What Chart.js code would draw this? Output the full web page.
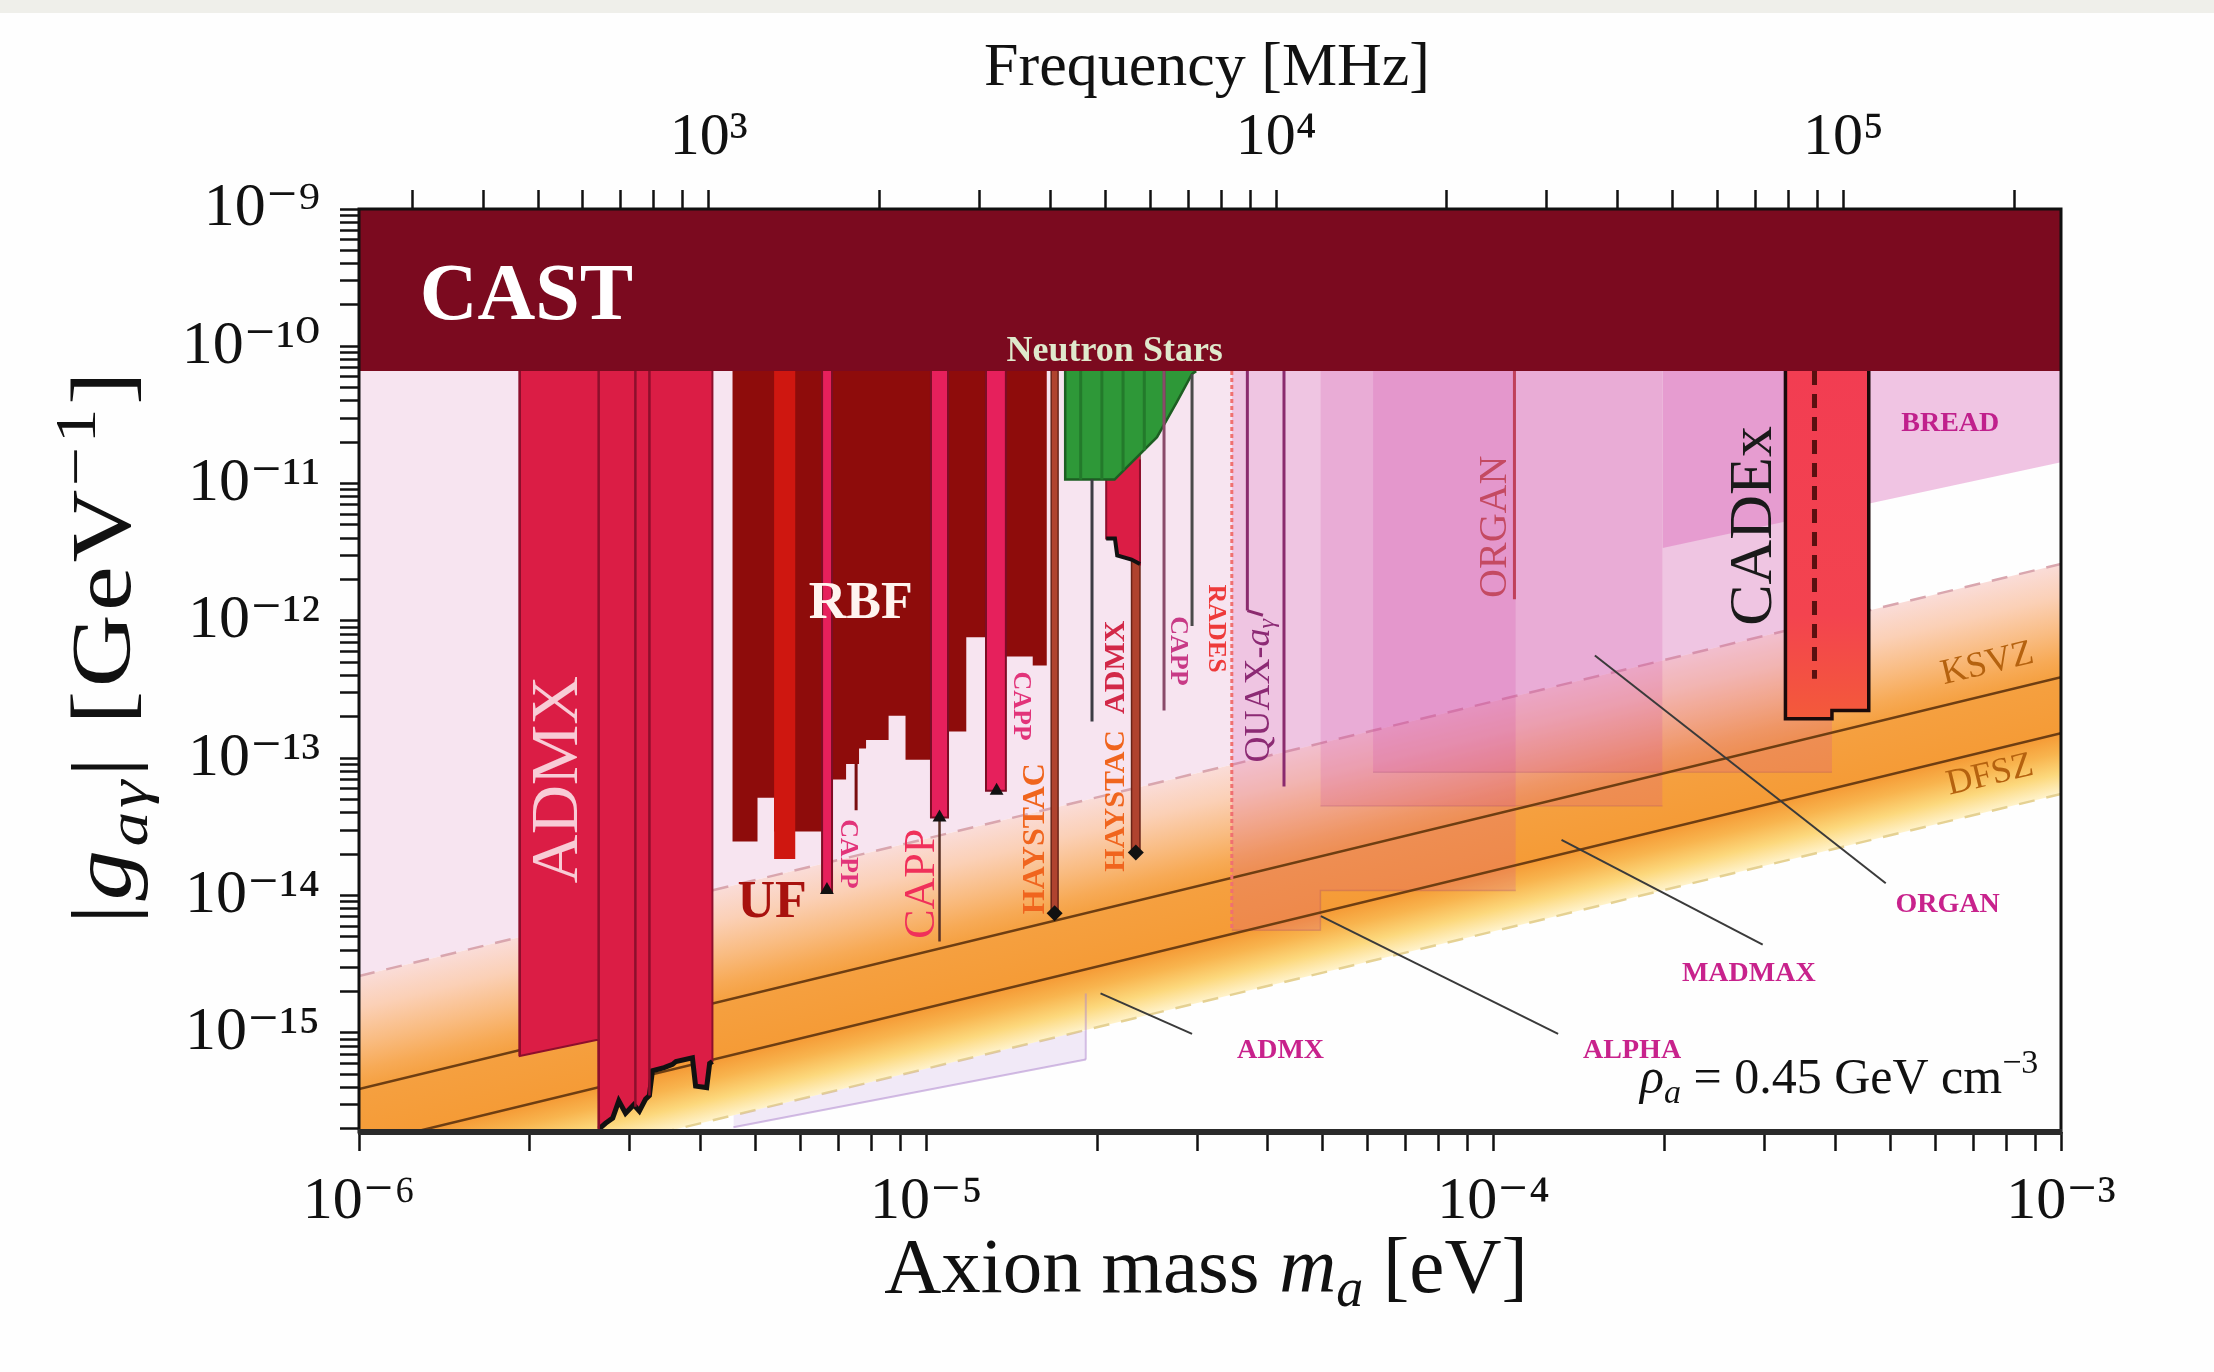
<!DOCTYPE html>
<html><head><meta charset="utf-8">
<script src="https://cdn.jsdelivr.net/npm/chart.js@4.4.1/dist/chart.umd.min.js"></script>
<style>html,body{margin:0;padding:0;background:#fefefe;}canvas{display:block;}</style>
</head><body>
<canvas id="c" width="2214" height="1372"></canvas>
<script>
// ---------------- DATA (mass in eV, coupling in GeV^-1) ----------------
const massRange = [1e-6, 1e-3];
const couplingRange = [1.9e-16, 1e-9];
const freqRange = [241.8, 241800]; // MHz, same span as massRange
const massTicks = [1e-6, 1e-5, 1e-4, 1e-3];
const massTickLabels = ['10⁻⁶', '10⁻⁵', '10⁻⁴', '10⁻³'];
const couplingTicks = [1e-15, 1e-14, 1e-13, 1e-12, 1e-11, 1e-10, 1e-9];
const couplingTickLabels = ['10⁻¹⁵', '10⁻¹⁴', '10⁻¹³', '10⁻¹²', '10⁻¹¹', '10⁻¹⁰', '10⁻⁹'];
const freqTicks = [1e3, 1e4, 1e5];
const freqTickLabels = ['10³', '10⁴', '10⁵'];

// QCD axion band
const bandMass = [1e-6, 1e-3];
const ksvzCoupling = [3.9e-16, 3.9e-13];
const dfszCoupling = [1.52e-16, 1.52e-13];
const bandUpperCoupling = [2.6e-15, 2.6e-12];
const bandLowerCoupling = [5.5e-17, 5.5e-14];

// light pink region above the band
const hintMass = [1e-6, 4.6e-4];
const hintCoupling = [2.6e-15, 1.196e-12];

// CAST
const castMass = [1e-6, 1e-3];
const castCoupling = [6.6e-11, 6.6e-11];

// ADMX (main)
const admxMass = [1.92e-6, 1.92e-6, 2.62e-6, 2.645e-6, 2.65e-6, 2.72e-6, 2.80e-6, 2.87e-6, 2.95e-6, 3.05e-6, 3.12e-6, 3.20e-6, 3.25e-6, 3.29e-6, 3.45e-6, 3.57e-6, 3.62e-6, 3.87e-6, 3.92e-6, 4.10e-6, 4.15e-6, 4.197e-6, 4.197e-6];
const admxCoupling = [6.6e-11, 6.8e-16, 8.9e-16, 8.9e-16, 2.0e-16, 2.2e-16, 2.4e-16, 3.2e-16, 2.6e-16, 3.0e-16, 2.7e-16, 3.3e-16, 3.5e-16, 5.3e-16, 5.6e-16, 5.9e-16, 6.2e-16, 6.6e-16, 4.1e-16, 4.0e-16, 6.0e-16, 6.2e-16, 6.6e-11];
const admxDividerMass = [1.92e-6, 2.645e-6, 3.07e-6, 3.25e-6];
const admxDividerBottom = [6.8e-16, 2.0e-16, 2.9e-16, 3.5e-16];

// ADMX projected reach
const admxProjMass = [4.57e-6, 1.91e-5];
const admxProjCoupling = [2.06e-16, 6.4e-16];
const admxProjEdgeMass = [1.91e-5, 1.91e-5];
const admxProjEdgeCoupling = [6.4e-16, 1.94e-15];

// RBF / UF
const rbfMass = [4.55e-6, 4.55e-6, 5.04e-6, 5.04e-6, 5.39e-6, 5.39e-6, 6.55e-6, 6.55e-6, 7.22e-6, 7.22e-6, 7.61e-6, 7.61e-6, 7.83e-6, 7.83e-6, 8.58e-6, 8.58e-6, 9.19e-6, 9.19e-6, 1.026e-5, 1.026e-5, 1.176e-5, 1.176e-5, 1.274e-5, 1.274e-5, 1.54e-5, 1.54e-5, 1.631e-5, 1.631e-5];
const rbfCoupling = [6.6e-11, 2.48e-14, 2.48e-14, 5.16e-14, 5.16e-14, 2.93e-14, 2.93e-14, 7.01e-14, 7.01e-14, 9.1e-14, 9.1e-14, 1.18e-13, 1.18e-13, 1.36e-13, 1.36e-13, 2.04e-13, 2.04e-13, 9.77e-14, 9.77e-14, 1.57e-13, 1.57e-13, 7.62e-13, 7.62e-13, 5.52e-13, 5.52e-13, 4.75e-13, 4.75e-13, 6.6e-11];
const ufMass = [5.39e-6, 5.88e-6];
const ufCoupling = [1.85e-14, 1.85e-14];

// CAPP strips
const cappLeft = [6.55e-6, 1.019e-5, 1.274e-5];
const cappRight = [6.82e-6, 1.092e-5, 1.381e-5];
const cappBottom = [1.06e-14, 3.7e-14, 5.81e-14];
const cappMarkMass = [6.68e-6, 1.055e-5, 1.33e-5];
const cappMarkCoupling = [1.1e-14, 3.7e-14, 5.81e-14];

// HAYSTAC strips
const haystacLeft = [1.66e-5, 2.30e-5];
const haystacRight = [1.707e-5, 2.38e-5];
const haystacBottom = [7.45e-15, 2.06e-14];
const haystacMarkMass = [1.683e-5, 2.34e-5];
const haystacMarkCoupling = [7.45e-15, 2.06e-14];

// ADMX (high mass run)
const admx2Mass = [2.075e-5, 2.075e-5, 2.15e-5, 2.17e-5, 2.30e-5, 2.38e-5, 2.38e-5];
const admx2Coupling = [1.07e-11, 3.98e-12, 3.98e-12, 3.0e-12, 2.8e-12, 2.6e-12, 1.5e-11];

// Neutron stars
const nsMass = [1.757e-5, 1.757e-5, 2.147e-5, 2.274e-5, 2.55e-5, 2.765e-5, 2.94e-5, 2.99e-5];
const nsCoupling = [6.6e-11, 1.07e-11, 1.07e-11, 1.36e-11, 2.18e-11, 3.94e-11, 6.3e-11, 6.6e-11];
const nsStripeMass = [1.871e-5, 2.039e-5, 2.222e-5, 2.422e-5, 2.627e-5];
const nsStripeBottom = [1.07e-11, 1.07e-11, 1.25e-11, 1.75e-11, 2.8e-11];

// thin vertical limits (other haloscopes)
const vlineMass = [7.52e-6, 1.055e-5, 1.959e-5, 2.624e-5, 2.94e-5, 3.68e-5, 4.27e-5, 1.088e-4];
const vlineTop = [9.1e-14, 3.7e-14, 1.07e-11, 6.6e-11, 6.3e-11, 6.6e-11, 6.6e-11, 6.6e-11];
const vlineBottom = [4.18e-14, 4.64e-15, 1.85e-13, 2.23e-13, 9.2e-13, 1.19e-12, 6.24e-14, 1.44e-12];
const radesMass = [3.455e-5, 3.455e-5];
const radesCoupling = [6.6e-11, 5.6e-15];
const quaxTickMass = [3.68e-5, 3.92e-5];
const quaxTickCoupling = [1.19e-12, 1.1e-12];

// CADEx
const cadexMass = [3.268e-4, 3.268e-4, 3.947e-4, 3.947e-4, 4.583e-4, 4.583e-4];
const cadexCoupling = [6.6e-11, 1.94e-13, 1.94e-13, 2.23e-13, 2.23e-13, 6.6e-11];
const cadexDashMass = [3.677e-4, 3.677e-4];
const cadexDashCoupling = [6.6e-11, 3.79e-13];

// projections
const alphaProjMass = [3.455e-5, 4.95e-5, 4.95e-5, 1.094e-4];
const alphaProjCoupling = [5.6e-15, 5.6e-15, 1.09e-14, 1.09e-14];
const madmaxProjMass = [4.95e-5, 1.985e-4];
const madmaxProjCoupling = [4.5e-14, 4.5e-14];
const organProjMass = [6.13e-5, 3.947e-4];
const organProjCoupling = [7.9e-14, 7.9e-14];
const breadMass = [1.985e-4, 1e-3];
const breadCoupling = [3.4e-12, 1.43e-11];

// leader lines for projection labels
const leaderAdmxMass = [2.028e-5, 2.94e-5], leaderAdmxCoupling = [1.94e-15, 9.86e-16];
const leaderAlphaMass = [4.96e-5, 1.299e-4], leaderAlphaCoupling = [7.1e-15, 9.84e-16];
const leaderMadmaxMass = [1.317e-4, 2.98e-4], leaderMadmaxCoupling = [2.55e-14, 4.4e-15];
const leaderOrganMass = [1.508e-4, 4.91e-4], leaderOrganCoupling = [5.61e-13, 1.23e-14];

// text labels: anchor positions (mass, coupling)
const labelText = ['CAST', 'Neutron Stars', 'RBF', 'UF', 'ADMX', 'CAPP', 'CAPP', 'CAPP', 'HAYSTAC', 'HAYSTAC', 'ADMX', 'CAPP', 'RADES', 'ORGAN', 'CADEx', 'BREAD', 'ADMX', 'ALPHA', 'MADMAX', 'ORGAN'];
const labelMass = [1.279e-6, 2.148e-5, 7.66e-6, 5.35e-6, 2.257e-6, 7.27e-6, 9.85e-6, 1.466e-5, 1.561e-5, 2.164e-5, 2.164e-5, 2.77e-5, 3.243e-5, 1.007e-4, 2.88e-4, 6.38e-4, 4.21e-5, 1.754e-4, 2.816e-4, 6.31e-4];
const labelCoupling = [1.58e-10, 7.8e-11, 1.045e-12, 7.0e-15, 7.0e-14, 2.01e-14, 1.22e-14, 2.4e-13, 2.6e-14, 4.9e-14, 4.6e-13, 6.06e-13, 8.8e-13, 4.85e-12, 4.92e-12, 2.42e-11, 6.58e-16, 6.58e-16, 2.37e-15, 7.62e-15];
const quaxLabelPos = [3.862e-5, 3.1e-13];
const ksvzLabelPos = [7.42e-4, 4.86e-13];
const dfszLabelPos = [7.5e-4, 7.53e-14];
const rhoLabelPos = [9.12e-4, 3.67e-16];

// ---------------- STYLE ----------------
const SERIF = "'Liberation Serif', 'DejaVu Serif', serif";
const labelStyle = [
  {f: 'bold 80px', c: '#ffffff', a: 'left', b: 'alphabetic', r: 0},
  {f: 'bold 36px', c: '#dfe9cc', a: 'center', b: 'alphabetic', r: 0},
  {f: 'bold 52px', c: '#fff4ef', a: 'center', b: 'alphabetic', r: 0},
  {f: 'bold 52px', c: '#a8120e', a: 'center', b: 'alphabetic', r: 0},
  {f: '68px', c: '#f8ccd6', a: 'center', b: 'middle', r: -90},
  {f: 'bold 26px', c: '#e2347a', a: 'center', b: 'middle', r: 90},
  {f: '44px', c: '#f0305a', a: 'center', b: 'middle', r: -90},
  {f: 'bold 26px', c: '#e2347a', a: 'center', b: 'middle', r: 90},
  {f: 'bold 32px', c: '#f0651e', a: 'center', b: 'middle', r: -90},
  {f: 'bold 30px', c: '#f0651e', a: 'center', b: 'middle', r: -90},
  {f: 'bold 30px', c: '#d22848', a: 'center', b: 'middle', r: -90},
  {f: 'bold 26px', c: '#c83a86', a: 'center', b: 'middle', r: 90},
  {f: 'bold 26px', c: '#ee3a3a', a: 'center', b: 'middle', r: 90},
  {f: '40px', c: '#c44a62', a: 'center', b: 'middle', r: -90},
  {f: '62px', c: '#1a1a1a', a: 'center', b: 'middle', r: -90},
  {f: 'bold 28px', c: '#c0208c', a: 'center', b: 'alphabetic', r: 0},
  {f: 'bold 28px', c: '#c8228c', a: 'center', b: 'alphabetic', r: 0},
  {f: 'bold 28px', c: '#c8228c', a: 'center', b: 'alphabetic', r: 0},
  {f: 'bold 28px', c: '#c8228c', a: 'center', b: 'alphabetic', r: 0},
  {f: 'bold 28px', c: '#c8228c', a: 'center', b: 'alphabetic', r: 0}
];
const vlineColor = ['#7a0d10', '#5a3328', '#3c3c44', '#8a4a6a', '#4a4a4a', '#8b2a6e', '#8b2a6e', '#c0405a'];

// ---------------- BUILD DATASETS ----------------
const pts = (ms, gs) => ms.map((m, i) => ({x: m, y: gs[i]}));
const layers = []; // bottom to top
function area(ms, gs, color, extra) {
  layers.push(Object.assign({data: pts(ms, gs), fill: 'end', backgroundColor: color, borderWidth: 0, borderColor: 'rgba(0,0,0,0)'}, extra || {}));
}
function line(ms, gs, color, width, extra) {
  layers.push(Object.assign({data: pts(ms, gs), fill: false, borderColor: color, borderWidth: width, backgroundColor: 'rgba(0,0,0,0)'}, extra || {}));
}

function bandGradient(context) {
  const chart = context.chart;
  const {chartArea, scales} = chart;
  if (!chartArea) return 'rgba(0,0,0,0)';
  const xs = scales.x, ys = scales.y;
  const xa = xs.getPixelForValue(bandMass[0]), xb = xs.getPixelForValue(bandMass[1]);
  const ya = ys.getPixelForValue(bandUpperCoupling[0]), yb = ys.getPixelForValue(bandUpperCoupling[1]);
  const k = (yb - ya) / (xb - xa);
  const yl = ys.getPixelForValue(bandLowerCoupling[0]);
  const f = (yl - ya) / (1 + k * k);
  const g = chart.ctx.createLinearGradient(xa, ya, xa - k * f, ya + f);
  g.addColorStop(0.0, '#fadcd8');
  g.addColorStop(0.14, '#fbd0b6');
  g.addColorStop(0.29, '#f9bc82');
  g.addColorStop(0.41, '#f7aa56');
  g.addColorStop(0.49, '#f5a040');
  g.addColorStop(0.74, '#f59b36');
  g.addColorStop(0.82, '#f8b44e');
  g.addColorStop(0.91, '#fcd87c');
  g.addColorStop(1.0, '#fff3cc');
  return g;
}
function cadexGradient(context) {
  const chart = context.chart;
  if (!chart.chartArea) return '#f2424f';
  const ys = chart.scales.y;
  const g = chart.ctx.createLinearGradient(0, ys.getPixelForValue(cadexCoupling[0]), 0, ys.getPixelForValue(cadexCoupling[1]));
  g.addColorStop(0, '#f23d52');
  g.addColorStop(0.7, '#f3434f');
  g.addColorStop(1, '#f35a3a');
  return g;
}

area(hintMass, hintCoupling, '#f7e4f0');                                   // 0
line(bandMass, bandUpperCoupling, '#d9a6ae', 2.5, {fill: '+1', backgroundColor: bandGradient, borderDash: [16, 12]}); // 1
line(bandMass, bandLowerCoupling, '#e5d193', 2.5, {borderDash: [16, 12]}); // 2
line(admxProjMass, admxProjCoupling, 'rgba(175,135,205,0.55)', 2, {fill: 2, backgroundColor: 'rgba(195,160,225,0.22)'});
line(admxProjEdgeMass, admxProjEdgeCoupling, 'rgba(175,135,205,0.5)', 2);
area(alphaProjMass, alphaProjCoupling, 'rgba(208,62,165,0.19)', {borderColor: 'rgba(150,60,110,0.25)', borderWidth: 1.5});
area(madmaxProjMass, madmaxProjCoupling, 'rgba(208,62,165,0.19)', {borderColor: 'rgba(150,60,110,0.2)', borderWidth: 1.5});
area(organProjMass, organProjCoupling, 'rgba(208,62,165,0.19)', {borderColor: 'rgba(150,60,110,0.2)', borderWidth: 1.5});
area(breadMass, breadCoupling, 'rgba(208,62,165,0.30)');
line(bandMass, ksvzCoupling, '#6e3e12', 2.5);
line(bandMass, dfszCoupling, '#6e3e12', 2.5);
area(admxMass, admxCoupling, '#db1d45', {borderColor: '#8d0f2c', borderWidth: 2});
line(admxMass.slice(4, 22), admxCoupling.slice(4, 22), '#111111', 5);
admxDividerMass.forEach((m, i) => line([m, m], [6.6e-11, admxDividerBottom[i]], '#8d0f2c', 2.5));
area(rbfMass, rbfCoupling, '#8e0c0b');
area(ufMass, ufCoupling, '#cf1710');
line([vlineMass[0], vlineMass[0]], [vlineTop[0], vlineBottom[0]], vlineColor[0], 3);
cappLeft.forEach((m, i) => area([m, m, cappRight[i], cappRight[i]], [6.6e-11, cappBottom[i], cappBottom[i], 6.6e-11], '#e6205c', {borderColor: '#7d0d25', borderWidth: 2}));
line([vlineMass[1], vlineMass[1]], [vlineTop[1], vlineBottom[1]], vlineColor[1], 2.5);
haystacLeft.forEach((m, i) => area([m, m, haystacRight[i], haystacRight[i]], [6.6e-11, haystacBottom[i], haystacBottom[i], 6.6e-11], '#b0432f', {borderColor: '#6a2418', borderWidth: 1.5}));
area(admx2Mass, admx2Coupling, '#db1d45', {borderColor: '#8d0f2c', borderWidth: 2});
line(admx2Mass.slice(1, 6), admx2Coupling.slice(1, 6), '#111111', 4);
area(nsMass, nsCoupling, '#2e9838', {borderColor: '#1d5e22', borderWidth: 2.5});
nsStripeMass.forEach((m, i) => line([m, m], [6.6e-11, nsStripeBottom[i]], '#237a2b', 3));
for (let i = 2; i < vlineMass.length; i++) line([vlineMass[i], vlineMass[i]], [vlineTop[i], vlineBottom[i]], vlineColor[i], 3);
line(quaxTickMass, quaxTickCoupling, vlineColor[5], 3);
line(radesMass, radesCoupling, '#f07070', 3, {borderDash: [4, 3]});
area(cadexMass, cadexCoupling, '#f2424f', {backgroundColor: cadexGradient, borderColor: '#1a0a0a', borderWidth: 3.5});
line(cadexDashMass, cadexDashCoupling, '#5a1010', 5, {borderDash: [14, 9]});
area(castMass, castCoupling, '#7b0a1f');
line(leaderAdmxMass, leaderAdmxCoupling, '#3a3a3a', 2);
line(leaderAlphaMass, leaderAlphaCoupling, '#3a3a3a', 2);
line(leaderMadmaxMass, leaderMadmaxCoupling, '#3a3a3a', 2);
line(leaderOrganMass, leaderOrganCoupling, '#3a3a3a', 2);
layers.push({data: pts(cappMarkMass, cappMarkCoupling), showLine: false, pointStyle: 'triangle', pointRadius: 8, pointBackgroundColor: '#111', pointBorderColor: '#111', borderWidth: 0});
layers.push({data: pts(haystacMarkMass, haystacMarkCoupling), showLine: false, pointStyle: 'rectRot', pointRadius: 8, pointBackgroundColor: '#111', pointBorderColor: '#111', borderWidth: 0});

const datasets = layers.map((d, i) => Object.assign({pointRadius: 0, pointHitRadius: 0, tension: 0, order: -i}, d));

// ---------------- HELPERS ----------------
function buildLogTicks(min, max) {
  const out = [];
  for (let e = Math.floor(Math.log10(min)); e <= Math.ceil(Math.log10(max)); e++) {
    for (let k = 1; k <= 9; k++) {
      const v = k * Math.pow(10, e);
      if (v >= min * (1 - 1e-9) && v <= max * (1 + 1e-9)) out.push({value: v, major: k === 1});
    }
  }
  return out;
}
function labeler(majors, labels) {
  return (v) => { const i = majors.findIndex(t => Math.abs(Math.log10(v / t)) < 1e-6); return i >= 0 ? labels[i] : ''; };
}
function drawRich(ctx, segs, x, y, rotDeg, align, baseline, color, spacing, stretch) {
  ctx.save();
  ctx.translate(x, y);
  ctx.rotate(rotDeg * Math.PI / 180);
  if (stretch) ctx.scale(stretch, 1);
  if (spacing) ctx.letterSpacing = spacing + 'px';
  let w = 0;
  segs.forEach(s => { ctx.font = s.f; s.w = ctx.measureText(s.t).width; w += s.w; });
  let cx = align === 'center' ? -w / 2 : (align === 'right' ? -w : 0);
  ctx.textAlign = 'left';
  ctx.textBaseline = baseline;
  segs.forEach(s => { ctx.font = s.f; ctx.fillStyle = s.c || color; ctx.fillText(s.t, cx, s.dy || 0); cx += s.w; });
  ctx.restore();
}
const F = (spec) => spec + ' ' + SERIF;

const decorPlugin = {
  id: 'decor',
  beforeDraw(chart) {
    const c = chart.ctx;
    c.save();
    c.fillStyle = '#fefefe';
    c.fillRect(0, 0, chart.width, chart.height);
    c.fillStyle = '#efefea';
    c.fillRect(0, 0, chart.width, 13);
    c.restore();
  },
  afterDatasetsDraw(chart) {
    const c = chart.ctx, xs = chart.scales.x, ys = chart.scales.y, A = chart.chartArea;
    labelText.forEach((t, i) => {
      const s = labelStyle[i];
      drawRich(c, [{t, f: F(s.f)}], xs.getPixelForValue(labelMass[i]), ys.getPixelForValue(labelCoupling[i]), s.r, s.a, s.b, s.c);
    });
    drawRich(c, [{t: 'QUAX-', f: F('36px')}, {t: 'a', f: F('italic 36px')}, {t: 'γ', f: F('italic 24px'), dy: 8}],
      xs.getPixelForValue(quaxLabelPos[0]), ys.getPixelForValue(quaxLabelPos[1]), -90, 'center', 'middle', '#8c2a74');
    const ang = Math.atan2(ys.getPixelForValue(ksvzCoupling[1]) - ys.getPixelForValue(ksvzCoupling[0]),
      xs.getPixelForValue(bandMass[1]) - xs.getPixelForValue(bandMass[0])) * 180 / Math.PI;
    drawRich(c, [{t: 'KSVZ', f: F('36px')}], xs.getPixelForValue(ksvzLabelPos[0]), ys.getPixelForValue(ksvzLabelPos[1]), ang, 'center', 'middle', '#b5620f');
    drawRich(c, [{t: 'DFSZ', f: F('36px')}], xs.getPixelForValue(dfszLabelPos[0]), ys.getPixelForValue(dfszLabelPos[1]), ang, 'center', 'middle', '#b5620f');
    drawRich(c, [{t: 'ρ', f: F('italic 50px')}, {t: 'a', f: F('italic 34px'), dy: 10}, {t: ' = 0.45 GeV cm', f: F('50px')}, {t: '−3', f: F('34px'), dy: -20}],
      xs.getPixelForValue(rhoLabelPos[0]), ys.getPixelForValue(rhoLabelPos[1]), 0, 'right', 'alphabetic', '#111');
    c.save();
    c.strokeStyle = '#111';
    c.lineWidth = 3;
    c.strokeRect(A.left, A.top, A.right - A.left, A.bottom - A.top);
    c.strokeStyle = '#2a2a2a';
    c.lineWidth = 6;
    c.beginPath(); c.moveTo(A.left - 1, A.bottom); c.lineTo(A.right + 1, A.bottom); c.stroke();
    c.restore();
  },
  afterDraw(chart) {
    const c = chart.ctx, A = chart.chartArea;
    const cx = (A.left + A.right) / 2;
    drawRich(c, [{t: 'Axion mass ', f: F('79px')}, {t: 'm', f: F('italic 79px')}, {t: 'a', f: F('italic 54px'), dy: 14}, {t: ' [eV]', f: F('79px')}],
      cx - 4, 1292, 0, 'center', 'alphabetic', '#111');
    drawRich(c, [{t: 'Frequency [MHz]', f: F('62px')}], cx - 3, 85, 0, 'center', 'alphabetic', '#111');
    drawRich(c, [{t: '|', f: F('84px')}, {t: 'g', f: F('italic 84px')}, {t: 'aγ', f: F('italic 58px'), dy: 17}, {t: '| [GeV', f: F('84px')}, {t: '−1', f: F('58px'), dy: -35}, {t: ']', f: F('84px')}],
      130, 646, -90, 'center', 'alphabetic', '#111', 3, 1.2);
  }
};

const gridOpts = {drawOnChartArea: false, drawTicks: true, tickLength: 19, tickWidth: 2.5, tickColor: '#111'};

new Chart(document.getElementById('c'), {
  type: 'line',
  data: {datasets},
  plugins: [decorPlugin],
  options: {
    responsive: false, animation: false, devicePixelRatio: 1,
    layout: {padding: {left: 0, right: 153, top: 0, bottom: 0}},
    plugins: {legend: {display: false}, tooltip: {enabled: false}, filler: {propagate: false, drawTime: 'beforeDatasetDraw'}},
    scales: {
      x: {
        type: 'logarithmic', position: 'bottom', min: massRange[0], max: massRange[1],
        afterBuildTicks: s => { s.ticks = buildLogTicks(massRange[0], massRange[1]); },
        afterFit: s => { s.height = 240; },
        ticks: {autoSkip: false, maxRotation: 0, minRotation: 0, padding: 15, color: '#111', font: {family: SERIF, size: 60}, callback: labeler(massTicks, massTickLabels)},
        grid: gridOpts, border: {display: false}
      },
      xTop: {
        type: 'logarithmic', position: 'top', min: freqRange[0], max: freqRange[1],
        afterBuildTicks: s => { s.ticks = buildLogTicks(freqRange[0], freqRange[1]); },
        afterFit: s => { s.height = 209; },
        ticks: {autoSkip: false, maxRotation: 0, minRotation: 0, padding: 16, color: '#111', font: {family: SERIF, size: 60}, callback: labeler(freqTicks, freqTickLabels)},
        grid: gridOpts, border: {display: false}
      },
      y: {
        type: 'logarithmic', position: 'left', min: couplingRange[0], max: couplingRange[1],
        afterBuildTicks: s => { s.ticks = buildLogTicks(couplingRange[0], couplingRange[1]); },
        afterFit: s => { s.width = 359; },
        ticks: {autoSkip: false, padding: 20, color: '#111', font: {family: SERIF, size: 62}, callback: labeler(couplingTicks, couplingTickLabels)},
        grid: gridOpts, border: {display: false}
      }
    }
  }
});
</script>
</body></html>
